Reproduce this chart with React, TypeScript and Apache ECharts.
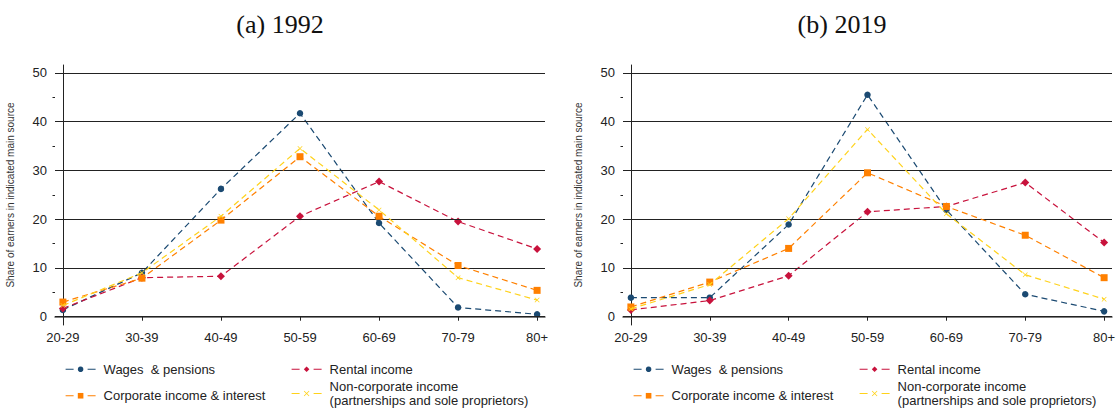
import React, { useEffect, useRef } from 'react';
import * as echarts from 'echarts';

// age groups on the x axis
const ageGroups = ['20-29', '30-39', '40-49', '50-59', '60-69', '70-79', '80+'];
const yLabelValues = [0, 10, 20, 30, 40, 50];
const yMinorTicks = [5, 15, 25, 35, 45];

// (a) 1992
const wages1992 = [1.4, 9.0, 26.2, 41.7, 19.2, 1.9, 0.5];
const rental1992 = [1.7, 8.0, 8.3, 20.6, 27.7, 19.5, 13.9];
const corporate1992 = [3.0, 7.9, 19.8, 32.8, 20.6, 10.5, 5.4];
const noncorp1992 = [2.3, 9.0, 20.6, 34.5, 21.9, 8.0, 3.4];

// (b) 2019
const wages2019 = [3.9, 3.9, 18.9, 45.5, 21.9, 4.6, 1.1];
const rental2019 = [1.4, 3.3, 8.4, 21.5, 22.6, 27.5, 15.2];
const corporate2019 = [2.0, 7.1, 14.0, 29.5, 22.6, 16.7, 8.0];
const noncorp2019 = [1.6, 6.6, 20.1, 38.4, 21.1, 8.6, 3.6];

const names = [
  'Wages  & pensions',
  'Rental income',
  'Corporate income & interest',
  'Non-corporate income\n(partnerships and sole proprietors)',
];
const colors = ['#1b4a72', '#c8123c', '#ff8000', '#ffd21a'];
const symbols = [
  'circle',
  'diamond',
  'rect',
  'path://M0,1L1,0L5,4L9,0L10,1L6,5L10,9L9,10L5,6L1,10L0,9L4,5Z',
];
const symbolSizes = [6.5, 8, 7, 5];

const FONT = 'Liberation Sans, Arial, sans-serif';

const App: React.FC = () => {
  const chartRef = useRef<HTMLDivElement | null>(null);

  useEffect(() => {
    document.body.style.margin = '0';
    if (!chartRef.current) return;
    const chart = echarts.init(chartRef.current, undefined, { renderer: 'svg' });

    const panels = [
      { left: 55, width: 490, data: [wages1992, rental1992, corporate1992, noncorp1992] },
      { left: 623, width: 489, data: [wages2019, rental2019, corporate2019, noncorp2019] },
    ];

    const grids: any[] = [];
    const xAxes: any[] = [];
    const yAxes: any[] = [];
    const series: any[] = [];
    const legends: any[] = [];

    panels.forEach((p, gi) => {
      grids.push({ left: p.left, top: 65, width: p.width, height: 260, outerBoundsMode: 'none' });
      xAxes.push({
        type: 'value',
        gridIndex: gi,
        min: -0.1,
        max: 6.1,
        splitLine: { show: false },
        axisLine: { show: true, lineStyle: { color: '#555', width: 1.5 } },
        axisTick: { show: true, length: 4, customValues: ageGroups.map((_, i) => i), lineStyle: { color: '#222' } },
        axisLabel: {
          customValues: ageGroups.map((_, i) => i),
          formatter: (v: number) => ageGroups[Math.round(v)] ?? '',
          margin: 6,
          fontSize: 13,
          color: '#222',
          fontFamily: FONT,
        },
      });
      // major ticks + labels
      yAxes.push({
        type: 'value',
        gridIndex: gi,
        min: -1.7,
        max: 51.6,
        name: 'Share of earners in indicated main source',
        nameLocation: 'middle',
        nameGap: 40,
        nameRotate: 90,
        nameTextStyle: { fontSize: 10, color: '#333', fontFamily: FONT },
        splitLine: { show: false },
        axisLine: { show: true, lineStyle: { color: '#222', width: 1 } },
        axisTick: { show: true, length: 5.5, customValues: yLabelValues, lineStyle: { color: '#222' } },
        axisLabel: { customValues: yLabelValues, margin: 8, fontSize: 13, color: '#222', fontFamily: FONT },
      });
      // minor ticks
      yAxes.push({
        type: 'value',
        gridIndex: gi,
        position: 'left',
        min: -1.7,
        max: 51.6,
        splitLine: { show: false },
        axisLine: { show: false },
        axisTick: { show: true, length: 2.5, customValues: yMinorTicks, lineStyle: { color: '#222' } },
        axisLabel: { show: false },
      });

      // horizontal grid lines
      series.push({
        type: 'line',
        xAxisIndex: gi,
        yAxisIndex: gi * 2,
        data: [],
        z: 1,
        silent: true,
        markLine: {
          silent: true,
          symbol: 'none',
          label: { show: false },
          lineStyle: { color: '#222', width: 1.2, type: 'solid' },
          data: yLabelValues.map((v) => ({ yAxis: v })),
        },
      });

      p.data.forEach((vals, si) => {
        series.push({
          type: 'line',
          name: names[si],
          xAxisIndex: gi,
          yAxisIndex: gi * 2,
          z: 3 + si,
          data: vals.map((v, i) => [i, v]),
          symbol: symbols[si],
          symbolSize: symbolSizes[si],
          showAllSymbol: true,
          itemStyle: { color: colors[si] },
          lineStyle: { color: colors[si], width: 1.2, type: [6, 4] },
        });
      });

      const col1 = p.left + 10;
      const col2 = p.left + 236;
      const pos = [
        { left: col1, top: 362 },
        { left: col2, top: 362 },
        { left: col1, top: 388.5 },
        { left: col2, top: 379 },
      ];
      names.forEach((n, si) => {
        legends.push({
          data: [n],
          left: pos[si].left,
          top: pos[si].top,
          padding: 0,
          itemWidth: 30,
          itemHeight: 7,
          selectedMode: false,
          lineStyle: { type: [8, 14], width: 1.2 },
          textStyle: { fontSize: 13, color: '#222', fontFamily: FONT, lineHeight: 14.5, padding: [0, 0, 0, 3] },
        });
      });
    });

    const option: echarts.EChartsOption = {
      animation: false,
      backgroundColor: '#fff',
      grid: grids,
      xAxis: xAxes,
      yAxis: yAxes,
      legend: legends,
      series,
      graphic: [
        {
          type: 'text',
          x: 280,
          y: 24,
          style: {
            text: '(a) 1992',
            font: '26px "Liberation Serif", "Times New Roman", serif',
            fill: '#111',
            textAlign: 'center',
            textVerticalAlign: 'middle',
          },
        },
        {
          type: 'text',
          x: 842,
          y: 24,
          style: {
            text: '(b) 2019',
            font: '26px "Liberation Serif", "Times New Roman", serif',
            fill: '#111',
            textAlign: 'center',
            textVerticalAlign: 'middle',
          },
        },
      ],
    } as any;

    chart.setOption(option);
    return () => {
      chart.dispose();
    };
  }, []);

  return <div ref={chartRef} style={{ width: '1120px', height: '409px' }} />;
};

export default App;
